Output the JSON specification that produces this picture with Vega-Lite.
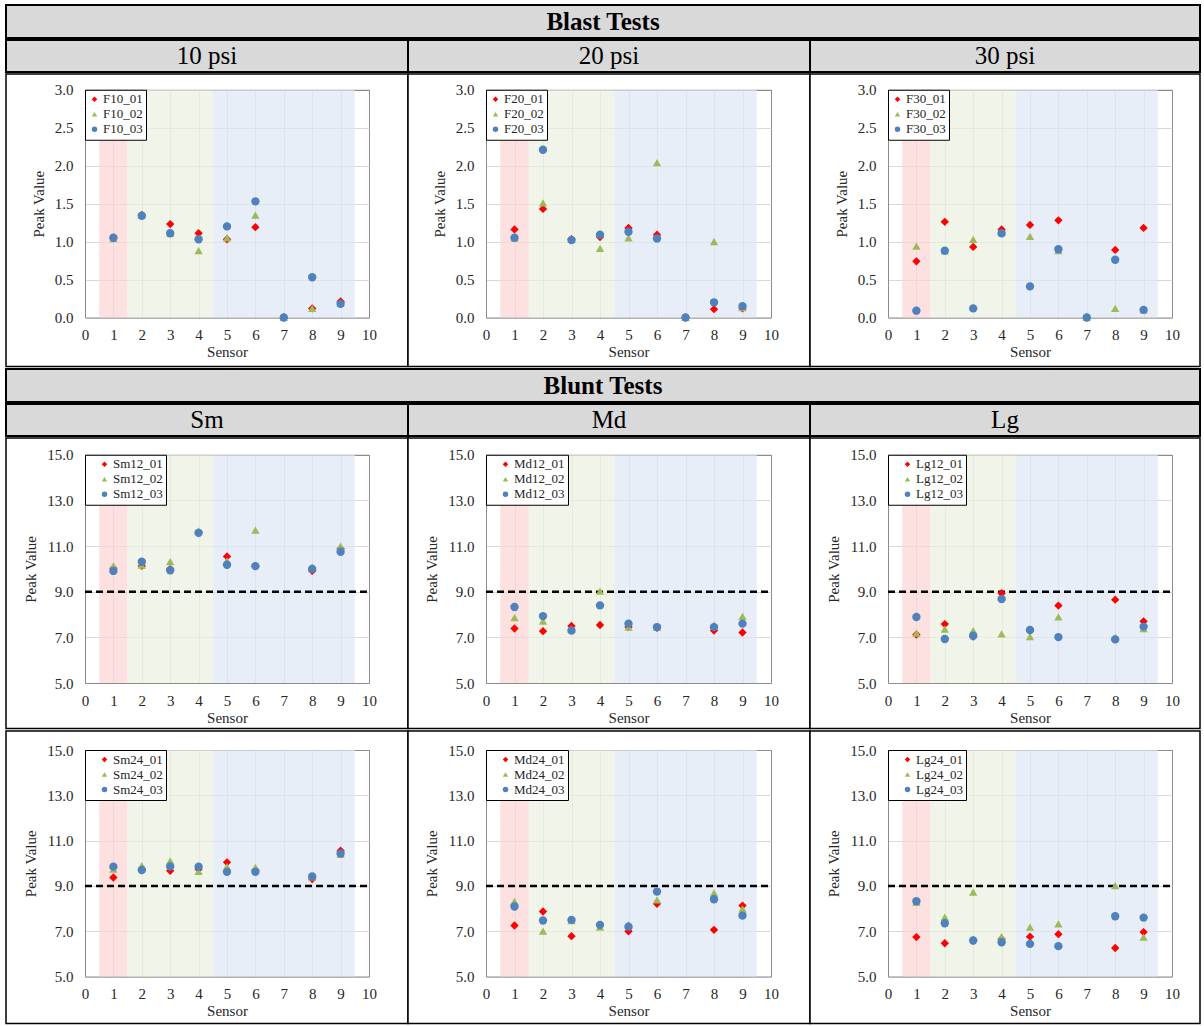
{
"$schema": "https://vega.github.io/schema/vega-lite/v6.json",
"padding": {"left": 5, "top": 4, "right": 0, "bottom": 2},
"background": "white",
"spacing": 0,
"resolve": {"scale": {"color": "independent", "shape": "independent"}},
"datasets": {
"zones": [{"zone":"a","start":0.5,"end":1.5},{"zone":"b","start":1.5,"end":4.5},{"zone":"c","start":4.5,"end":9.5}],
"pts": [
{"series":"F10_01","sensor":1,"value":1.05},{"series":"F10_01","sensor":2,"value":1.35},{"series":"F10_01","sensor":3,"value":1.23},{"series":"F10_01","sensor":4,"value":1.11},{"series":"F10_01","sensor":5,"value":1.03},{"series":"F10_01","sensor":6,"value":1.19},{"series":"F10_01","sensor":7,"value":0},{"series":"F10_01","sensor":8,"value":0.12},{"series":"F10_01","sensor":9,"value":0.21},
{"series":"F10_02","sensor":1,"value":1.04},{"series":"F10_02","sensor":2,"value":1.35},{"series":"F10_02","sensor":3,"value":1.11},{"series":"F10_02","sensor":4,"value":0.88},{"series":"F10_02","sensor":5,"value":1.05},{"series":"F10_02","sensor":6,"value":1.35},{"series":"F10_02","sensor":7,"value":0},{"series":"F10_02","sensor":8,"value":0.12},{"series":"F10_02","sensor":9,"value":0.19},
{"series":"F10_03","sensor":1,"value":1.05},{"series":"F10_03","sensor":2,"value":1.34},{"series":"F10_03","sensor":3,"value":1.11},{"series":"F10_03","sensor":4,"value":1.03},{"series":"F10_03","sensor":5,"value":1.2},{"series":"F10_03","sensor":6,"value":1.53},{"series":"F10_03","sensor":7,"value":0},{"series":"F10_03","sensor":8,"value":0.53},{"series":"F10_03","sensor":9,"value":0.18},
{"series":"F20_01","sensor":1,"value":1.16},{"series":"F20_01","sensor":2,"value":1.43},{"series":"F20_01","sensor":3,"value":1.03},{"series":"F20_01","sensor":4,"value":1.06},{"series":"F20_01","sensor":5,"value":1.18},{"series":"F20_01","sensor":6,"value":1.09},{"series":"F20_01","sensor":7,"value":0},{"series":"F20_01","sensor":8,"value":0.11},{"series":"F20_01","sensor":9,"value":0.12},
{"series":"F20_02","sensor":1,"value":1.05},{"series":"F20_02","sensor":2,"value":1.51},{"series":"F20_02","sensor":3,"value":1.03},{"series":"F20_02","sensor":4,"value":0.91},{"series":"F20_02","sensor":5,"value":1.05},{"series":"F20_02","sensor":6,"value":2.04},{"series":"F20_02","sensor":7,"value":0},{"series":"F20_02","sensor":8,"value":1.0},{"series":"F20_02","sensor":9,"value":0.13},
{"series":"F20_03","sensor":1,"value":1.05},{"series":"F20_03","sensor":2,"value":2.21},{"series":"F20_03","sensor":3,"value":1.02},{"series":"F20_03","sensor":4,"value":1.09},{"series":"F20_03","sensor":5,"value":1.13},{"series":"F20_03","sensor":6,"value":1.04},{"series":"F20_03","sensor":7,"value":0},{"series":"F20_03","sensor":8,"value":0.2},{"series":"F20_03","sensor":9,"value":0.15},
{"series":"F30_01","sensor":1,"value":0.74},{"series":"F30_01","sensor":2,"value":1.26},{"series":"F30_01","sensor":3,"value":0.93},{"series":"F30_01","sensor":4,"value":1.16},{"series":"F30_01","sensor":5,"value":1.22},{"series":"F30_01","sensor":6,"value":1.28},{"series":"F30_01","sensor":7,"value":0},{"series":"F30_01","sensor":8,"value":0.89},{"series":"F30_01","sensor":9,"value":1.18},
{"series":"F30_02","sensor":1,"value":0.94},{"series":"F30_02","sensor":2,"value":0.88},{"series":"F30_02","sensor":3,"value":1.03},{"series":"F30_02","sensor":4,"value":1.12},{"series":"F30_02","sensor":5,"value":1.07},{"series":"F30_02","sensor":6,"value":0.88},{"series":"F30_02","sensor":7,"value":0},{"series":"F30_02","sensor":8,"value":0.12},{"series":"F30_02","sensor":9,"value":0.1},
{"series":"F30_03","sensor":1,"value":0.09},{"series":"F30_03","sensor":2,"value":0.88},{"series":"F30_03","sensor":3,"value":0.12},{"series":"F30_03","sensor":4,"value":1.11},{"series":"F30_03","sensor":5,"value":0.41},{"series":"F30_03","sensor":6,"value":0.9},{"series":"F30_03","sensor":7,"value":0},{"series":"F30_03","sensor":8,"value":0.76},{"series":"F30_03","sensor":9,"value":0.1},
{"series":"Sm12_01","sensor":1,"value":10.03},{"series":"Sm12_01","sensor":2,"value":10.13},{"series":"Sm12_01","sensor":3,"value":9.99},{"series":"Sm12_01","sensor":4,"value":11.6},{"series":"Sm12_01","sensor":5,"value":10.54},{"series":"Sm12_01","sensor":6,"value":10.13},{"series":"Sm12_01","sensor":8,"value":9.91},{"series":"Sm12_01","sensor":9,"value":10.89},
{"series":"Sm12_02","sensor":1,"value":10.13},{"series":"Sm12_02","sensor":2,"value":10.16},{"series":"Sm12_02","sensor":3,"value":10.32},{"series":"Sm12_02","sensor":4,"value":11.67},{"series":"Sm12_02","sensor":5,"value":10.35},{"series":"Sm12_02","sensor":6,"value":11.7},{"series":"Sm12_02","sensor":8,"value":10.09},{"series":"Sm12_02","sensor":9,"value":11.0},
{"series":"Sm12_03","sensor":1,"value":9.91},{"series":"Sm12_03","sensor":2,"value":10.31},{"series":"Sm12_03","sensor":3,"value":9.94},{"series":"Sm12_03","sensor":4,"value":11.58},{"series":"Sm12_03","sensor":5,"value":10.18},{"series":"Sm12_03","sensor":6,"value":10.12},{"series":"Sm12_03","sensor":8,"value":10.0},{"series":"Sm12_03","sensor":9,"value":10.75},
{"series":"Md12_01","sensor":1,"value":7.39},{"series":"Md12_01","sensor":2,"value":7.27},{"series":"Md12_01","sensor":3,"value":7.5},{"series":"Md12_01","sensor":4,"value":7.54},{"series":"Md12_01","sensor":5,"value":7.45},{"series":"Md12_01","sensor":6,"value":7.42},{"series":"Md12_01","sensor":8,"value":7.3},{"series":"Md12_01","sensor":9,"value":7.21},
{"series":"Md12_02","sensor":1,"value":7.86},{"series":"Md12_02","sensor":2,"value":7.71},{"series":"Md12_02","sensor":3,"value":7.35},{"series":"Md12_02","sensor":4,"value":9.03},{"series":"Md12_02","sensor":5,"value":7.45},{"series":"Md12_02","sensor":6,"value":7.45},{"series":"Md12_02","sensor":8,"value":7.54},{"series":"Md12_02","sensor":9,"value":7.92},
{"series":"Md12_03","sensor":1,"value":8.33},{"series":"Md12_03","sensor":2,"value":7.93},{"series":"Md12_03","sensor":3,"value":7.3},{"series":"Md12_03","sensor":4,"value":8.4},{"series":"Md12_03","sensor":5,"value":7.6},{"series":"Md12_03","sensor":6,"value":7.45},{"series":"Md12_03","sensor":8,"value":7.45},{"series":"Md12_03","sensor":9,"value":7.6},
{"series":"Lg12_01","sensor":1,"value":7.12},{"series":"Lg12_01","sensor":2,"value":7.58},{"series":"Lg12_01","sensor":3,"value":7.03},{"series":"Lg12_01","sensor":4,"value":8.93},{"series":"Lg12_01","sensor":5,"value":7.29},{"series":"Lg12_01","sensor":6,"value":8.39},{"series":"Lg12_01","sensor":8,"value":8.65},{"series":"Lg12_01","sensor":9,"value":7.7},
{"series":"Lg12_02","sensor":1,"value":7.19},{"series":"Lg12_02","sensor":2,"value":7.36},{"series":"Lg12_02","sensor":3,"value":7.29},{"series":"Lg12_02","sensor":4,"value":7.15},{"series":"Lg12_02","sensor":5,"value":7.03},{"series":"Lg12_02","sensor":6,"value":7.9},{"series":"Lg12_02","sensor":8,"value":7.0},{"series":"Lg12_02","sensor":9,"value":7.38},
{"series":"Lg12_03","sensor":1,"value":7.89},{"series":"Lg12_03","sensor":2,"value":6.93},{"series":"Lg12_03","sensor":3,"value":7.07},{"series":"Lg12_03","sensor":4,"value":8.68},{"series":"Lg12_03","sensor":5,"value":7.32},{"series":"Lg12_03","sensor":6,"value":7.01},{"series":"Lg12_03","sensor":8,"value":6.91},{"series":"Lg12_03","sensor":9,"value":7.47},
{"series":"Sm24_01","sensor":1,"value":9.37},{"series":"Sm24_01","sensor":2,"value":9.7},{"series":"Sm24_01","sensor":3,"value":9.67},{"series":"Sm24_01","sensor":4,"value":9.74},{"series":"Sm24_01","sensor":5,"value":10.04},{"series":"Sm24_01","sensor":6,"value":9.7},{"series":"Sm24_01","sensor":8,"value":9.3},{"series":"Sm24_01","sensor":9,"value":10.55},
{"series":"Sm24_02","sensor":1,"value":9.74},{"series":"Sm24_02","sensor":2,"value":9.89},{"series":"Sm24_02","sensor":3,"value":10.11},{"series":"Sm24_02","sensor":4,"value":9.64},{"series":"Sm24_02","sensor":5,"value":9.85},{"series":"Sm24_02","sensor":6,"value":9.82},{"series":"Sm24_02","sensor":8,"value":9.4},{"series":"Sm24_02","sensor":9,"value":10.4},
{"series":"Sm24_03","sensor":1,"value":9.85},{"series":"Sm24_03","sensor":2,"value":9.7},{"series":"Sm24_03","sensor":3,"value":9.86},{"series":"Sm24_03","sensor":4,"value":9.85},{"series":"Sm24_03","sensor":5,"value":9.62},{"series":"Sm24_03","sensor":6,"value":9.62},{"series":"Sm24_03","sensor":8,"value":9.42},{"series":"Sm24_03","sensor":9,"value":10.43},
{"series":"Md24_01","sensor":1,"value":7.25},{"series":"Md24_01","sensor":2,"value":7.87},{"series":"Md24_01","sensor":3,"value":6.78},{"series":"Md24_01","sensor":4,"value":7.28},{"series":"Md24_01","sensor":5,"value":7.0},{"series":"Md24_01","sensor":6,"value":8.21},{"series":"Md24_01","sensor":8,"value":7.06},{"series":"Md24_01","sensor":9,"value":8.13},
{"series":"Md24_02","sensor":1,"value":8.32},{"series":"Md24_02","sensor":2,"value":7.0},{"series":"Md24_02","sensor":3,"value":7.47},{"series":"Md24_02","sensor":4,"value":7.18},{"series":"Md24_02","sensor":5,"value":7.29},{"series":"Md24_02","sensor":6,"value":8.38},{"series":"Md24_02","sensor":8,"value":8.69},{"series":"Md24_02","sensor":9,"value":7.99},
{"series":"Md24_03","sensor":1,"value":8.09},{"series":"Md24_03","sensor":2,"value":7.47},{"series":"Md24_03","sensor":3,"value":7.5},{"series":"Md24_03","sensor":4,"value":7.28},{"series":"Md24_03","sensor":5,"value":7.2},{"series":"Md24_03","sensor":6,"value":8.75},{"series":"Md24_03","sensor":8,"value":8.41},{"series":"Md24_03","sensor":9,"value":7.69},
{"series":"Lg24_01","sensor":1,"value":6.74},{"series":"Lg24_01","sensor":2,"value":6.47},{"series":"Lg24_01","sensor":3,"value":6.59},{"series":"Lg24_01","sensor":4,"value":6.66},{"series":"Lg24_01","sensor":5,"value":6.76},{"series":"Lg24_01","sensor":6,"value":6.87},{"series":"Lg24_01","sensor":8,"value":6.26},{"series":"Lg24_01","sensor":9,"value":6.96},
{"series":"Lg24_02","sensor":1,"value":8.28},{"series":"Lg24_02","sensor":2,"value":7.62},{"series":"Lg24_02","sensor":3,"value":8.72},{"series":"Lg24_02","sensor":4,"value":6.76},{"series":"Lg24_02","sensor":5,"value":7.18},{"series":"Lg24_02","sensor":6,"value":7.32},{"series":"Lg24_02","sensor":8,"value":9.01},{"series":"Lg24_02","sensor":9,"value":6.74},
{"series":"Lg24_03","sensor":1,"value":8.32},{"series":"Lg24_03","sensor":2,"value":7.35},{"series":"Lg24_03","sensor":3,"value":6.59},{"series":"Lg24_03","sensor":4,"value":6.51},{"series":"Lg24_03","sensor":5,"value":6.44},{"series":"Lg24_03","sensor":6,"value":6.34},{"series":"Lg24_03","sensor":8,"value":7.66},{"series":"Lg24_03","sensor":9,"value":7.6}
]
},
"vconcat": [
{"width": 1194, "height": 33, "view": {"fill": "#d9d9d9", "stroke": "black", "strokeWidth": 2},
 "data": {"values": [{"label": "Blast Tests"}]},
 "mark": {"type": "text", "font": "Liberation Serif", "fontSize": 25, "fontWeight": "bold", "color": "black", "align": "center", "baseline": "middle"},
 "encoding": {"text": {"field": "label"}}},
{"hconcat": [
 {"width": 402, "height": 32, "view": {"fill": "#d9d9d9", "stroke": "black", "strokeWidth": 2}, "data": {"values": [{"label": "10 psi"}]}, "mark": {"type": "text", "font": "Liberation Serif", "fontSize": 25, "color": "black", "align": "center", "baseline": "middle"}, "encoding": {"text": {"field": "label"}}},
 {"width": 402, "height": 32, "view": {"fill": "#d9d9d9", "stroke": "black", "strokeWidth": 2}, "data": {"values": [{"label": "20 psi"}]}, "mark": {"type": "text", "font": "Liberation Serif", "fontSize": 25, "color": "black", "align": "center", "baseline": "middle"}, "encoding": {"text": {"field": "label"}}},
 {"width": 390, "height": 32, "view": {"fill": "#d9d9d9", "stroke": "black", "strokeWidth": 2}, "data": {"values": [{"label": "30 psi"}]}, "mark": {"type": "text", "font": "Liberation Serif", "fontSize": 25, "color": "black", "align": "center", "baseline": "middle"}, "encoding": {"text": {"field": "label"}}}
], "spacing": 0, "bounds": "flush"},
{"hconcat": [
 {"width": 402, "height": 292.5, "view": {"fill": "white", "stroke": "black", "strokeWidth": 1.5}, "resolve": {"axis": {"x": "independent"}},
  "layer": [
   {"data": {"name": "zones"}, "mark": {"type": "rect", "opacity": 0.7},
    "encoding": {
     "x": {"field": "start", "type": "quantitative", "scale": {"domain": [0, 10], "range": [79, 363], "nice": false, "zero": false}, "axis": {"orient": "top", "offset": -15.75, "values": [0,1,2,3,4,5,6,7,8,9,10], "labels": false, "title": null, "gridColor": {"condition": {"test": "datum.index == 1", "value": "#8c8c8c"}, "value": "#d9d9d9"}}},
     "x2": {"field": "end"},
     "y": {"datum": 0, "type": "quantitative", "scale": {"domain": [0, 3], "range": [243.5, 15.75], "nice": false, "zero": false}, "axis": {"title": "Peak Value", "offset": -79, "values": [0,0.5,1,1.5,2,2.5,3], "format": ".1f", "labelPadding": 12, "titlePadding": 8, "gridColor": {"condition": {"test": "datum.index == 1", "value": "#8c8c8c"}, "value": "#d9d9d9"}}},
     "y2": {"datum": 3},
     "fill": {"field": "zone", "type": "nominal", "scale": {"domain": ["a","b","c"], "range": ["#fcd3d3", "#ebf1e0", "#dee7f4"]}, "legend": null}}},
   {"data": {"name": "pts"}, "transform": [{"filter": "indexof(datum.series, 'F10_') == 0"}], "mark": {"type": "point", "filled": true, "opacity": 1, "size": 70},
    "encoding": {
     "x": {"field": "sensor", "type": "quantitative", "axis": {"orient": "bottom", "offset": -49, "values": [0,1,2,3,4,5,6,7,8,9,10], "format": "d", "grid": false, "title": "Sensor", "labelPadding": 10, "titlePadding": 2}},
     "y": {"field": "value", "type": "quantitative"},
     "color": {"field": "series", "type": "nominal", "legend": {"orient": "none", "legendX": 79, "legendY": 15.75, "title": null}},
     "shape": {"field": "series", "type": "nominal"}}}
  ]},
 {"width": 402, "height": 292.5, "view": {"fill": "white", "stroke": "black", "strokeWidth": 1.5}, "resolve": {"axis": {"x": "independent"}},
  "layer": [
   {"data": {"name": "zones"}, "mark": {"type": "rect", "opacity": 0.7},
    "encoding": {
     "x": {"field": "start", "type": "quantitative", "scale": {"domain": [0, 10], "range": [78, 363], "nice": false, "zero": false}, "axis": {"orient": "top", "offset": -15.75, "values": [0,1,2,3,4,5,6,7,8,9,10], "labels": false, "title": null, "gridColor": {"condition": {"test": "datum.index == 1", "value": "#8c8c8c"}, "value": "#d9d9d9"}}},
     "x2": {"field": "end"},
     "y": {"datum": 0, "type": "quantitative", "scale": {"domain": [0, 3], "range": [243.5, 15.75], "nice": false, "zero": false}, "axis": {"title": "Peak Value", "offset": -78, "values": [0,0.5,1,1.5,2,2.5,3], "format": ".1f", "labelPadding": 12, "titlePadding": 8, "gridColor": {"condition": {"test": "datum.index == 1", "value": "#8c8c8c"}, "value": "#d9d9d9"}}},
     "y2": {"datum": 3},
     "fill": {"field": "zone", "type": "nominal", "scale": {"domain": ["a","b","c"], "range": ["#fcd3d3", "#ebf1e0", "#dee7f4"]}, "legend": null}}},
   {"data": {"name": "pts"}, "transform": [{"filter": "indexof(datum.series, 'F20_') == 0"}], "mark": {"type": "point", "filled": true, "opacity": 1, "size": 70},
    "encoding": {
     "x": {"field": "sensor", "type": "quantitative", "axis": {"orient": "bottom", "offset": -49, "values": [0,1,2,3,4,5,6,7,8,9,10], "format": "d", "grid": false, "title": "Sensor", "labelPadding": 10, "titlePadding": 2}},
     "y": {"field": "value", "type": "quantitative"},
     "color": {"field": "series", "type": "nominal", "legend": {"orient": "none", "legendX": 78, "legendY": 15.75, "title": null}},
     "shape": {"field": "series", "type": "nominal"}}}
  ]},
 {"width": 390, "height": 292.5, "view": {"fill": "white", "stroke": "black", "strokeWidth": 1.5}, "resolve": {"axis": {"x": "independent"}},
  "layer": [
   {"data": {"name": "zones"}, "mark": {"type": "rect", "opacity": 0.7},
    "encoding": {
     "x": {"field": "start", "type": "quantitative", "scale": {"domain": [0, 10], "range": [78, 362], "nice": false, "zero": false}, "axis": {"orient": "top", "offset": -15.75, "values": [0,1,2,3,4,5,6,7,8,9,10], "labels": false, "title": null, "gridColor": {"condition": {"test": "datum.index == 1", "value": "#8c8c8c"}, "value": "#d9d9d9"}}},
     "x2": {"field": "end"},
     "y": {"datum": 0, "type": "quantitative", "scale": {"domain": [0, 3], "range": [243.5, 15.75], "nice": false, "zero": false}, "axis": {"title": "Peak Value", "offset": -78, "values": [0,0.5,1,1.5,2,2.5,3], "format": ".1f", "labelPadding": 12, "titlePadding": 8, "gridColor": {"condition": {"test": "datum.index == 1", "value": "#8c8c8c"}, "value": "#d9d9d9"}}},
     "y2": {"datum": 3},
     "fill": {"field": "zone", "type": "nominal", "scale": {"domain": ["a","b","c"], "range": ["#fcd3d3", "#ebf1e0", "#dee7f4"]}, "legend": null}}},
   {"data": {"name": "pts"}, "transform": [{"filter": "indexof(datum.series, 'F30_') == 0"}], "mark": {"type": "point", "filled": true, "opacity": 1, "size": 70},
    "encoding": {
     "x": {"field": "sensor", "type": "quantitative", "axis": {"orient": "bottom", "offset": -49, "values": [0,1,2,3,4,5,6,7,8,9,10], "format": "d", "grid": false, "title": "Sensor", "labelPadding": 10, "titlePadding": 2}},
     "y": {"field": "value", "type": "quantitative"},
     "color": {"field": "series", "type": "nominal", "legend": {"orient": "none", "legendX": 78, "legendY": 15.75, "title": null}},
     "shape": {"field": "series", "type": "nominal"}}}
  ]}
], "spacing": 0, "bounds": "flush", "resolve": {"scale": {"color": "independent", "shape": "independent"}}},
{"width": 1194, "height": 33, "view": {"fill": "#d9d9d9", "stroke": "black", "strokeWidth": 2},
 "data": {"values": [{"label": "Blunt Tests"}]},
 "mark": {"type": "text", "font": "Liberation Serif", "fontSize": 25, "fontWeight": "bold", "color": "black", "align": "center", "baseline": "middle"},
 "encoding": {"text": {"field": "label"}}},
{"hconcat": [
 {"width": 402, "height": 32, "view": {"fill": "#d9d9d9", "stroke": "black", "strokeWidth": 2}, "data": {"values": [{"label": "Sm"}]}, "mark": {"type": "text", "font": "Liberation Serif", "fontSize": 25, "color": "black", "align": "center", "baseline": "middle"}, "encoding": {"text": {"field": "label"}}},
 {"width": 402, "height": 32, "view": {"fill": "#d9d9d9", "stroke": "black", "strokeWidth": 2}, "data": {"values": [{"label": "Md"}]}, "mark": {"type": "text", "font": "Liberation Serif", "fontSize": 25, "color": "black", "align": "center", "baseline": "middle"}, "encoding": {"text": {"field": "label"}}},
 {"width": 390, "height": 32, "view": {"fill": "#d9d9d9", "stroke": "black", "strokeWidth": 2}, "data": {"values": [{"label": "Lg"}]}, "mark": {"type": "text", "font": "Liberation Serif", "fontSize": 25, "color": "black", "align": "center", "baseline": "middle"}, "encoding": {"text": {"field": "label"}}}
], "spacing": 0, "bounds": "flush"},
{"hconcat": [
 {"width": 402, "height": 290.5, "view": {"fill": "white", "stroke": "black", "strokeWidth": 1.5}, "resolve": {"axis": {"x": "independent"}},
  "layer": [
   {"data": {"name": "zones"}, "mark": {"type": "rect", "opacity": 0.7},
    "encoding": {
     "x": {"field": "start", "type": "quantitative", "scale": {"domain": [0, 10], "range": [79, 363], "nice": false, "zero": false}, "axis": {"orient": "top", "offset": -16.75, "values": [0,1,2,3,4,5,6,7,8,9,10], "labels": false, "title": null, "gridColor": {"condition": {"test": "datum.index == 1", "value": "#8c8c8c"}, "value": "#d9d9d9"}}},
     "x2": {"field": "end"},
     "y": {"datum": 5, "type": "quantitative", "scale": {"domain": [5, 15], "range": [245, 16.75], "nice": false, "zero": false}, "axis": {"title": "Peak Value", "offset": -79, "values": [5,7,9,11,13,15], "format": ".1f", "labelPadding": 12, "titlePadding": 8, "gridColor": {"condition": {"test": "datum.index == 1", "value": "#8c8c8c"}, "value": "#d9d9d9"}}},
     "y2": {"datum": 15},
     "fill": {"field": "zone", "type": "nominal", "scale": {"domain": ["a","b","c"], "range": ["#fcd3d3", "#ebf1e0", "#dee7f4"]}, "legend": null}}},
   {"data": {"values": [{"limit": 9}]}, "mark": {"type": "rule", "color": "black", "strokeWidth": 2.5, "strokeDash": [7, 4]},
    "encoding": {"y": {"field": "limit", "type": "quantitative"}, "x": {"datum": 0, "type": "quantitative", "axis": null}, "x2": {"datum": 10}}},
   {"data": {"name": "pts"}, "transform": [{"filter": "indexof(datum.series, 'Sm12_') == 0"}], "mark": {"type": "point", "filled": true, "opacity": 1, "size": 70},
    "encoding": {
     "x": {"field": "sensor", "type": "quantitative", "axis": {"orient": "bottom", "offset": -45.5, "values": [0,1,2,3,4,5,6,7,8,9,10], "format": "d", "grid": false, "title": "Sensor", "labelPadding": 10, "titlePadding": 2}},
     "y": {"field": "value", "type": "quantitative"},
     "color": {"field": "series", "type": "nominal", "legend": {"orient": "none", "legendX": 79, "legendY": 16.75, "title": null, "symbolOffset": 10}},
     "shape": {"field": "series", "type": "nominal"}}}
  ]},
 {"width": 402, "height": 290.5, "view": {"fill": "white", "stroke": "black", "strokeWidth": 1.5}, "resolve": {"axis": {"x": "independent"}},
  "layer": [
   {"data": {"name": "zones"}, "mark": {"type": "rect", "opacity": 0.7},
    "encoding": {
     "x": {"field": "start", "type": "quantitative", "scale": {"domain": [0, 10], "range": [78, 363], "nice": false, "zero": false}, "axis": {"orient": "top", "offset": -16.75, "values": [0,1,2,3,4,5,6,7,8,9,10], "labels": false, "title": null, "gridColor": {"condition": {"test": "datum.index == 1", "value": "#8c8c8c"}, "value": "#d9d9d9"}}},
     "x2": {"field": "end"},
     "y": {"datum": 5, "type": "quantitative", "scale": {"domain": [5, 15], "range": [245, 16.75], "nice": false, "zero": false}, "axis": {"title": "Peak Value", "offset": -78, "values": [5,7,9,11,13,15], "format": ".1f", "labelPadding": 12, "titlePadding": 8, "gridColor": {"condition": {"test": "datum.index == 1", "value": "#8c8c8c"}, "value": "#d9d9d9"}}},
     "y2": {"datum": 15},
     "fill": {"field": "zone", "type": "nominal", "scale": {"domain": ["a","b","c"], "range": ["#fcd3d3", "#ebf1e0", "#dee7f4"]}, "legend": null}}},
   {"data": {"values": [{"limit": 9}]}, "mark": {"type": "rule", "color": "black", "strokeWidth": 2.5, "strokeDash": [7, 4]},
    "encoding": {"y": {"field": "limit", "type": "quantitative"}, "x": {"datum": 0, "type": "quantitative", "axis": null}, "x2": {"datum": 10}}},
   {"data": {"name": "pts"}, "transform": [{"filter": "indexof(datum.series, 'Md12_') == 0"}], "mark": {"type": "point", "filled": true, "opacity": 1, "size": 70},
    "encoding": {
     "x": {"field": "sensor", "type": "quantitative", "axis": {"orient": "bottom", "offset": -45.5, "values": [0,1,2,3,4,5,6,7,8,9,10], "format": "d", "grid": false, "title": "Sensor", "labelPadding": 10, "titlePadding": 2}},
     "y": {"field": "value", "type": "quantitative"},
     "color": {"field": "series", "type": "nominal", "legend": {"orient": "none", "legendX": 78, "legendY": 16.75, "title": null, "symbolOffset": 10}},
     "shape": {"field": "series", "type": "nominal"}}}
  ]},
 {"width": 390, "height": 290.5, "view": {"fill": "white", "stroke": "black", "strokeWidth": 1.5}, "resolve": {"axis": {"x": "independent"}},
  "layer": [
   {"data": {"name": "zones"}, "mark": {"type": "rect", "opacity": 0.7},
    "encoding": {
     "x": {"field": "start", "type": "quantitative", "scale": {"domain": [0, 10], "range": [78, 362], "nice": false, "zero": false}, "axis": {"orient": "top", "offset": -16.75, "values": [0,1,2,3,4,5,6,7,8,9,10], "labels": false, "title": null, "gridColor": {"condition": {"test": "datum.index == 1", "value": "#8c8c8c"}, "value": "#d9d9d9"}}},
     "x2": {"field": "end"},
     "y": {"datum": 5, "type": "quantitative", "scale": {"domain": [5, 15], "range": [245, 16.75], "nice": false, "zero": false}, "axis": {"title": "Peak Value", "offset": -78, "values": [5,7,9,11,13,15], "format": ".1f", "labelPadding": 12, "titlePadding": 8, "gridColor": {"condition": {"test": "datum.index == 1", "value": "#8c8c8c"}, "value": "#d9d9d9"}}},
     "y2": {"datum": 15},
     "fill": {"field": "zone", "type": "nominal", "scale": {"domain": ["a","b","c"], "range": ["#fcd3d3", "#ebf1e0", "#dee7f4"]}, "legend": null}}},
   {"data": {"values": [{"limit": 9}]}, "mark": {"type": "rule", "color": "black", "strokeWidth": 2.5, "strokeDash": [7, 4]},
    "encoding": {"y": {"field": "limit", "type": "quantitative"}, "x": {"datum": 0, "type": "quantitative", "axis": null}, "x2": {"datum": 10}}},
   {"data": {"name": "pts"}, "transform": [{"filter": "indexof(datum.series, 'Lg12_') == 0"}], "mark": {"type": "point", "filled": true, "opacity": 1, "size": 70},
    "encoding": {
     "x": {"field": "sensor", "type": "quantitative", "axis": {"orient": "bottom", "offset": -45.5, "values": [0,1,2,3,4,5,6,7,8,9,10], "format": "d", "grid": false, "title": "Sensor", "labelPadding": 10, "titlePadding": 2}},
     "y": {"field": "value", "type": "quantitative"},
     "color": {"field": "series", "type": "nominal", "legend": {"orient": "none", "legendX": 78, "legendY": 16.75, "title": null, "symbolOffset": 10}},
     "shape": {"field": "series", "type": "nominal"}}}
  ]}
], "spacing": 0, "bounds": "flush", "resolve": {"scale": {"color": "independent", "shape": "independent"}}},
{"hconcat": [
 {"width": 402, "height": 292.5, "view": {"fill": "white", "stroke": "black", "strokeWidth": 1.5}, "resolve": {"axis": {"x": "independent"}},
  "layer": [
   {"data": {"name": "zones"}, "mark": {"type": "rect", "opacity": 0.7},
    "encoding": {
     "x": {"field": "start", "type": "quantitative", "scale": {"domain": [0, 10], "range": [79, 363], "nice": false, "zero": false}, "axis": {"orient": "top", "offset": -19, "values": [0,1,2,3,4,5,6,7,8,9,10], "labels": false, "title": null, "gridColor": {"condition": {"test": "datum.index == 1", "value": "#8c8c8c"}, "value": "#d9d9d9"}}},
     "x2": {"field": "end"},
     "y": {"datum": 5, "type": "quantitative", "scale": {"domain": [5, 15], "range": [245.5, 19], "nice": false, "zero": false}, "axis": {"title": "Peak Value", "offset": -79, "values": [5,7,9,11,13,15], "format": ".1f", "labelPadding": 12, "titlePadding": 8, "gridColor": {"condition": {"test": "datum.index == 1", "value": "#8c8c8c"}, "value": "#d9d9d9"}}},
     "y2": {"datum": 15},
     "fill": {"field": "zone", "type": "nominal", "scale": {"domain": ["a","b","c"], "range": ["#fcd3d3", "#ebf1e0", "#dee7f4"]}, "legend": null}}},
   {"data": {"values": [{"limit": 9}]}, "mark": {"type": "rule", "color": "black", "strokeWidth": 2.5, "strokeDash": [7, 4]},
    "encoding": {"y": {"field": "limit", "type": "quantitative"}, "x": {"datum": 0, "type": "quantitative", "axis": null}, "x2": {"datum": 10}}},
   {"data": {"name": "pts"}, "transform": [{"filter": "indexof(datum.series, 'Sm24_') == 0"}], "mark": {"type": "point", "filled": true, "opacity": 1, "size": 70},
    "encoding": {
     "x": {"field": "sensor", "type": "quantitative", "axis": {"orient": "bottom", "offset": -47, "values": [0,1,2,3,4,5,6,7,8,9,10], "format": "d", "grid": false, "title": "Sensor", "labelPadding": 10, "titlePadding": 2}},
     "y": {"field": "value", "type": "quantitative"},
     "color": {"field": "series", "type": "nominal", "legend": {"orient": "none", "legendX": 79, "legendY": 19, "title": null, "symbolOffset": 10}},
     "shape": {"field": "series", "type": "nominal"}}}
  ]},
 {"width": 402, "height": 292.5, "view": {"fill": "white", "stroke": "black", "strokeWidth": 1.5}, "resolve": {"axis": {"x": "independent"}},
  "layer": [
   {"data": {"name": "zones"}, "mark": {"type": "rect", "opacity": 0.7},
    "encoding": {
     "x": {"field": "start", "type": "quantitative", "scale": {"domain": [0, 10], "range": [78, 363], "nice": false, "zero": false}, "axis": {"orient": "top", "offset": -19, "values": [0,1,2,3,4,5,6,7,8,9,10], "labels": false, "title": null, "gridColor": {"condition": {"test": "datum.index == 1", "value": "#8c8c8c"}, "value": "#d9d9d9"}}},
     "x2": {"field": "end"},
     "y": {"datum": 5, "type": "quantitative", "scale": {"domain": [5, 15], "range": [245.5, 19], "nice": false, "zero": false}, "axis": {"title": "Peak Value", "offset": -78, "values": [5,7,9,11,13,15], "format": ".1f", "labelPadding": 12, "titlePadding": 8, "gridColor": {"condition": {"test": "datum.index == 1", "value": "#8c8c8c"}, "value": "#d9d9d9"}}},
     "y2": {"datum": 15},
     "fill": {"field": "zone", "type": "nominal", "scale": {"domain": ["a","b","c"], "range": ["#fcd3d3", "#ebf1e0", "#dee7f4"]}, "legend": null}}},
   {"data": {"values": [{"limit": 9}]}, "mark": {"type": "rule", "color": "black", "strokeWidth": 2.5, "strokeDash": [7, 4]},
    "encoding": {"y": {"field": "limit", "type": "quantitative"}, "x": {"datum": 0, "type": "quantitative", "axis": null}, "x2": {"datum": 10}}},
   {"data": {"name": "pts"}, "transform": [{"filter": "indexof(datum.series, 'Md24_') == 0"}], "mark": {"type": "point", "filled": true, "opacity": 1, "size": 70},
    "encoding": {
     "x": {"field": "sensor", "type": "quantitative", "axis": {"orient": "bottom", "offset": -47, "values": [0,1,2,3,4,5,6,7,8,9,10], "format": "d", "grid": false, "title": "Sensor", "labelPadding": 10, "titlePadding": 2}},
     "y": {"field": "value", "type": "quantitative"},
     "color": {"field": "series", "type": "nominal", "legend": {"orient": "none", "legendX": 78, "legendY": 19, "title": null, "symbolOffset": 10}},
     "shape": {"field": "series", "type": "nominal"}}}
  ]},
 {"width": 390, "height": 292.5, "view": {"fill": "white", "stroke": "black", "strokeWidth": 1.5}, "resolve": {"axis": {"x": "independent"}},
  "layer": [
   {"data": {"name": "zones"}, "mark": {"type": "rect", "opacity": 0.7},
    "encoding": {
     "x": {"field": "start", "type": "quantitative", "scale": {"domain": [0, 10], "range": [78, 362], "nice": false, "zero": false}, "axis": {"orient": "top", "offset": -19, "values": [0,1,2,3,4,5,6,7,8,9,10], "labels": false, "title": null, "gridColor": {"condition": {"test": "datum.index == 1", "value": "#8c8c8c"}, "value": "#d9d9d9"}}},
     "x2": {"field": "end"},
     "y": {"datum": 5, "type": "quantitative", "scale": {"domain": [5, 15], "range": [245.5, 19], "nice": false, "zero": false}, "axis": {"title": "Peak Value", "offset": -78, "values": [5,7,9,11,13,15], "format": ".1f", "labelPadding": 12, "titlePadding": 8, "gridColor": {"condition": {"test": "datum.index == 1", "value": "#8c8c8c"}, "value": "#d9d9d9"}}},
     "y2": {"datum": 15},
     "fill": {"field": "zone", "type": "nominal", "scale": {"domain": ["a","b","c"], "range": ["#fcd3d3", "#ebf1e0", "#dee7f4"]}, "legend": null}}},
   {"data": {"values": [{"limit": 9}]}, "mark": {"type": "rule", "color": "black", "strokeWidth": 2.5, "strokeDash": [7, 4]},
    "encoding": {"y": {"field": "limit", "type": "quantitative"}, "x": {"datum": 0, "type": "quantitative", "axis": null}, "x2": {"datum": 10}}},
   {"data": {"name": "pts"}, "transform": [{"filter": "indexof(datum.series, 'Lg24_') == 0"}], "mark": {"type": "point", "filled": true, "opacity": 1, "size": 70},
    "encoding": {
     "x": {"field": "sensor", "type": "quantitative", "axis": {"orient": "bottom", "offset": -47, "values": [0,1,2,3,4,5,6,7,8,9,10], "format": "d", "grid": false, "title": "Sensor", "labelPadding": 10, "titlePadding": 2}},
     "y": {"field": "value", "type": "quantitative"},
     "color": {"field": "series", "type": "nominal", "legend": {"orient": "none", "legendX": 78, "legendY": 19, "title": null, "symbolOffset": 10}},
     "shape": {"field": "series", "type": "nominal"}}}
  ]}
], "spacing": 0, "bounds": "flush", "resolve": {"scale": {"color": "independent", "shape": "independent"}}}
],
"config": {
 "font": "Liberation Serif",
 "view": {"stroke": null},
 "range": {"category": ["#ff0000", "#9bbb59", "#4f81bd"], "symbol": ["diamond", "triangle-up", "circle"]},
 "axis": {"labelFont": "Liberation Serif", "labelFontSize": 15, "labelColor": "#262626", "titleFont": "Liberation Serif", "titleFontSize": 15, "titleFontWeight": "normal", "titleColor": "#262626", "ticks": false, "grid": true, "domainColor": "#8c8c8c", "labelFlush": false, "labelOverlap": false},
 "legend": {"labelFont": "Liberation Serif", "labelFontSize": 13, "labelColor": "#262626", "strokeColor": "black", "fillColor": "white", "padding": 3, "rowPadding": 1, "symbolSize": 30, "labelOffset": 2, "symbolStrokeWidth": 0}
}
}
